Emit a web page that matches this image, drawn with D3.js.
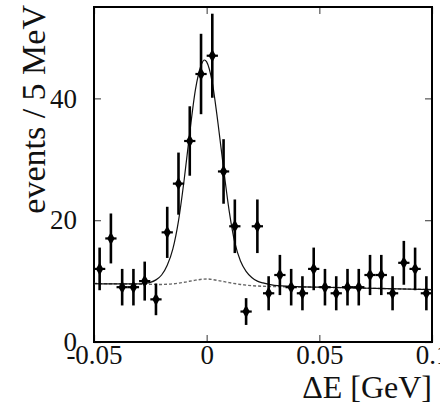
<!DOCTYPE html>
<html><head><meta charset="utf-8">
<script src="https://cdn.jsdelivr.net/npm/d3@7"></script>
<style>
html,body{margin:0;padding:0;background:#fff;}
svg{display:block;}
text{font-family:"Liberation Serif","DejaVu Serif",serif;fill:#111;}
</style></head>
<body>
<svg id="c" width="440" height="409"></svg>
<script>
// bin centers (GeV), 5 MeV bins
const binCenters = [-0.0475,-0.0425,-0.0375,-0.0325,-0.0275,-0.0225,-0.0175,-0.0125,-0.0075,-0.0025,
  0.0025,0.0075,0.0125,0.0175,0.0225,0.0275,0.0325,0.0375,0.0425,0.0475,
  0.0525,0.0575,0.0625,0.0675,0.0725,0.0775,0.0825,0.0875,0.0925,0.0975];
const counts = [12,17,9,9,10,7,18,26,33,44,47,28,19,5,19,8,11,9,8,12,9,8,9,9,11,11,8,13,12,8];
const errors = [3.5,4.1,3.0,3.0,3.2,2.6,4.2,5.1,5.7,6.6,6.9,5.3,4.4,2.2,4.4,2.8,3.3,3.0,2.8,3.5,3.0,2.8,3.0,3.0,3.3,3.3,2.8,3.6,3.5,2.8];
const binHalf = 0.0025;

// fit curves
const totalX = [-0.05,-0.04,-0.03,-0.025,-0.0225,-0.02,-0.0175,-0.015,-0.0125,-0.01,-0.0075,-0.005,-0.0025,-0.001,0,0.0025,0.005,0.0075,0.01,0.0125,0.015,0.0175,0.02,0.0225,0.025,0.03,0.04,0.05,0.075,0.1];
const totalY = [9.6,9.55,9.55,9.8,10.2,11.0,12.6,15.3,19.9,26.6,34.4,41.4,45.4,46.3,46.0,42.6,36.0,28.5,21.5,16.3,13.3,11.6,10.6,10.0,9.7,9.3,9.1,9.0,8.8,8.6];
const bkgX = [-0.05,-0.03,-0.02,-0.015,-0.01,-0.005,0,0.005,0.01,0.015,0.02,0.03,0.05,0.075,0.1];
const bkgY = [9.6,9.5,9.45,9.55,9.8,10.15,10.35,10.1,9.75,9.45,9.25,9.1,9.0,8.8,8.6];

const xTicks = [-0.05,0,0.05,0.1];
const xTickLabels = ["-0.05","0","0.05","0.1"];
const yTicks = [0,20,40];
const yTickLabels = ["0","20","40"];

const svg = d3.select("#c");
const L=94, R=432, T=7, B=342;
const x = d3.scaleLinear().domain([-0.05,0.1]).range([L,R]);
const y = d3.scaleLinear().domain([0,55]).range([B,T]);

const tickLen = 7;
// axes with inward ticks
const ax = svg.append("g");
ax.append("g").attr("transform",`translate(0,${B})`)
  .call(d3.axisBottom(x).tickValues(xTicks).tickSize(-tickLen).tickFormat((d,i)=>xTickLabels[i]).tickPadding(14))
  .call(g=>{g.select(".domain").remove();g.selectAll("line").attr("stroke","#555").attr("stroke-width",1.2);
    g.selectAll("text").attr("font-size",27).attr("font-family","Liberation Serif").attr("fill","#111").attr("dy","0.71em").attr("y",3);});
ax.append("g").attr("transform",`translate(0,${T})`)
  .call(d3.axisTop(x).tickValues(xTicks).tickSize(-tickLen).tickFormat(""))
  .call(g=>{g.select(".domain").remove();g.selectAll("line").attr("stroke","#555").attr("stroke-width",1.2);});
ax.append("g").attr("transform",`translate(${L},0)`)
  .call(d3.axisLeft(y).tickValues(yTicks).tickSize(-tickLen).tickFormat((d,i)=>yTickLabels[i]).tickPadding(17))
  .call(g=>{g.select(".domain").remove();g.selectAll("line").attr("stroke","#555").attr("stroke-width",1.2);
    g.selectAll("text").attr("font-size",27).attr("font-family","Liberation Serif").attr("fill","#111");});
ax.append("g").attr("transform",`translate(${R},0)`)
  .call(d3.axisRight(y).tickValues(yTicks).tickSize(-tickLen).tickFormat(""))
  .call(g=>{g.select(".domain").remove();g.selectAll("line").attr("stroke","#555").attr("stroke-width",1.2);});

// frame
svg.append("rect").attr("x",L).attr("y",T).attr("width",R-L).attr("height",B-T)
  .attr("fill","none").attr("stroke","#000").attr("stroke-width",2);

// background (dashed)
const bkgData = bkgX.map((v,i)=>[v,bkgY[i]]);
svg.append("path").datum(bkgData)
  .attr("d",d3.line().x(d=>x(d[0])).y(d=>y(d[1])).curve(d3.curveMonotoneX))
  .attr("fill","none").attr("stroke","#666").attr("stroke-width",1.4).attr("stroke-dasharray","3,2");

// total fit (solid)
const totData = totalX.map((v,i)=>[v,totalY[i]]);
svg.append("path").datum(totData)
  .attr("d",d3.line().x(d=>x(d[0])).y(d=>y(d[1])).curve(d3.curveMonotoneX))
  .attr("fill","none").attr("stroke","#111").attr("stroke-width",1.2);

// data points
const pts = binCenters.map((c,i)=>({c, n:counts[i], e:errors[i]}));
const g = svg.append("g");
g.selectAll("line.v").data(pts).join("line").attr("class","v")
  .attr("x1",d=>x(d.c)).attr("x2",d=>x(d.c))
  .attr("y1",d=>y(d.n-d.e)).attr("y2",d=>y(d.n+d.e))
  .attr("stroke","#000").attr("stroke-width",2.6);
g.selectAll("line.h").data(pts).join("line").attr("class","h")
  .attr("x1",d=>x(d.c-binHalf)).attr("x2",d=>x(d.c+binHalf))
  .attr("y1",d=>y(d.n)).attr("y2",d=>y(d.n))
  .attr("stroke","#000").attr("stroke-width",2.2);
g.selectAll("path.m").data(pts).join("path").attr("class","m")
  .attr("transform",d=>`translate(${x(d.c)},${y(d.n)})`)
  .attr("d",d3.symbol(d3.symbolDiamond,48))
  .attr("fill","#000");

// axis labels
svg.append("text").attr("transform","translate(45,5) rotate(-90)")
  .attr("text-anchor","end").attr("font-size",34).text("events / 5 MeV");
svg.append("text").attr("x",432).attr("y",398)
  .attr("text-anchor","end").attr("font-size",32).text("ΔE [GeV]");
</script>
</body></html>
